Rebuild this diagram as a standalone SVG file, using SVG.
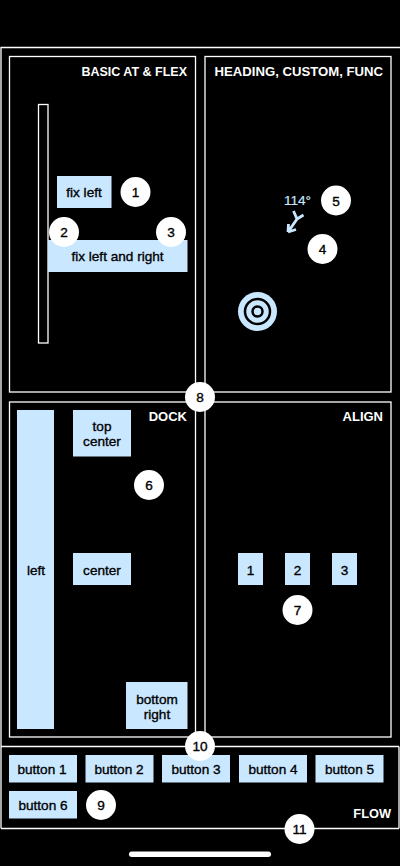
<svg xmlns="http://www.w3.org/2000/svg" width="400" height="866" viewBox="0 0 400 866">
<style>
text{font-family:"Liberation Sans",Arial,sans-serif;font-size:13.600px;text-anchor:middle}
.panel{fill:none;stroke:#fff;stroke-width:1.300}
.box{fill:#c9e7ff}
.box+text,.lbl{fill:#000;stroke:#000;stroke-width:.35}
.title{fill:#fff;font-weight:700;font-size:13px;text-anchor:end}
.badge circle{fill:#fff}
.badge text{fill:#000;stroke:#000;stroke-width:.35}
</style>
<rect width="400" height="866" fill="#000"/>
<g id="frames">
<path class="panel" d="M1 828.500V47.500H400M1 746.500H399M1 828.500H399M399 746.500V828.500"/>
</g>
<g id="basic"><rect class="panel" x="9.500" y="56.500" width="186" height="335.500"/><text class="title" x="187" y="76" style="font-size:12.500px">BASIC AT &amp; FLEX</text></g>
<g id="heading"><rect class="panel" x="205" y="56.500" width="186" height="335.500"/><text class="title" x="383" y="76" style="font-size:13.150px">HEADING, CUSTOM, FUNC</text></g>
<g id="dock"><rect class="panel" x="9.500" y="402" width="186" height="335"/><text class="title" x="187" y="421">DOCK</text></g>
<g id="align"><rect class="panel" x="205" y="402" width="186" height="335"/><text class="title" x="383" y="421">ALIGN</text></g>
<g id="flow"><text class="title" x="391" y="818" style="font-size:12.800px">FLOW</text></g>
<g id="rail"><rect class="panel" x="38.500" y="104.500" width="9.500" height="238.500"/></g>
<g id="fix-left"><rect class="box" x="57" y="176" width="54.500" height="32"/><text x="84" y="197">fix left</text></g>
<g id="fix-left-right"><rect class="box" x="48" y="240" width="139.500" height="32"/><text x="117.500" y="261">fix left and right</text></g>
<g id="heading-arrow"><text x="297.500" y="205" style="fill:#c9e7ff;stroke:#c9e7ff;stroke-width:.2">114°</text>
<path d="M293.500 211L297 219L288 232M288 232L288.500 224M288 232L296 229.500M297 219L303.500 215" fill="none" stroke="#c9e7ff" stroke-width="2.800"/></g>
<g id="target"><circle cx="257.500" cy="311.500" r="19.500" fill="#c9e7ff"/><circle cx="257.500" cy="311.500" r="12.500" fill="none" stroke="#000" stroke-width="2.500"/><circle cx="257.500" cy="311.500" r="5" fill="none" stroke="#000" stroke-width="2.500"/></g>
<g id="dock-left"><rect class="box" x="17" y="410" width="37" height="319"/><text x="36" y="574.500">left</text></g>
<g id="dock-top"><rect class="box" x="73" y="410" width="58" height="46.500"/><text x="102" y="430.500">top</text><text class="lbl" x="102" y="445.500">center</text></g>
<g id="dock-center"><rect class="box" x="73" y="553" width="58" height="32"/><text x="102" y="574.500">center</text></g>
<g id="dock-bottom"><rect class="box" x="126" y="682" width="61.500" height="47"/><text x="157" y="703.500">bottom</text><text class="lbl" x="157" y="718.500">right</text></g>
<g id="align-1"><rect class="box" x="238" y="553" width="25" height="32"/><text x="250.500" y="574.500">1</text></g>
<g id="align-2"><rect class="box" x="285" y="553" width="25" height="32"/><text x="297.500" y="574.500">2</text></g>
<g id="align-3"><rect class="box" x="332" y="553" width="25" height="32"/><text x="344.500" y="574.500">3</text></g>
<g id="button-1"><rect class="box" x="9" y="755" width="68" height="27.500"/><text x="42" y="774">button 1</text></g>
<g id="button-2"><rect class="box" x="85.500" y="755" width="68" height="27.500"/><text x="119" y="774">button 2</text></g>
<g id="button-3"><rect class="box" x="162" y="755" width="68" height="27.500"/><text x="196" y="774">button 3</text></g>
<g id="button-4"><rect class="box" x="239" y="755" width="68" height="27.500"/><text x="273" y="774">button 4</text></g>
<g id="button-5"><rect class="box" x="315.500" y="755" width="68" height="27.500"/><text x="349.500" y="774">button 5</text></g>
<g id="button-6"><rect class="box" x="9" y="791" width="68" height="27.500"/><text x="43" y="810">button 6</text></g>
<g id="badge-1" class="badge"><circle cx="135.500" cy="192" r="15"/><text x="135.500" y="197">1</text></g>
<g id="badge-2" class="badge"><circle cx="64" cy="232" r="15"/><text x="64" y="237">2</text></g>
<g id="badge-3" class="badge"><circle cx="171" cy="232" r="15"/><text x="171" y="237">3</text></g>
<g id="badge-4" class="badge"><circle cx="322.500" cy="249" r="15"/><text x="322.500" y="254">4</text></g>
<g id="badge-5" class="badge"><circle cx="336" cy="200.500" r="15"/><text x="336" y="205.500">5</text></g>
<g id="badge-6" class="badge"><circle cx="149" cy="485" r="15"/><text x="149" y="490">6</text></g>
<g id="badge-7" class="badge"><circle cx="297.500" cy="610" r="15"/><text x="297.500" y="615">7</text></g>
<g id="badge-8" class="badge"><circle cx="200" cy="397" r="15"/><text x="200" y="402">8</text></g>
<g id="badge-9" class="badge"><circle cx="101" cy="805" r="15"/><text x="101" y="810">9</text></g>
<g id="badge-10" class="badge"><circle cx="200" cy="746" r="15"/><text x="200" y="751">10</text></g>
<g id="badge-11" class="badge"><circle cx="299.500" cy="829" r="15"/><text x="299.500" y="834">11</text></g>
<g id="connectors"></g>
<rect x="129" y="851.500" width="142" height="5.500" rx="2.750" fill="#fff"/>
</svg>
